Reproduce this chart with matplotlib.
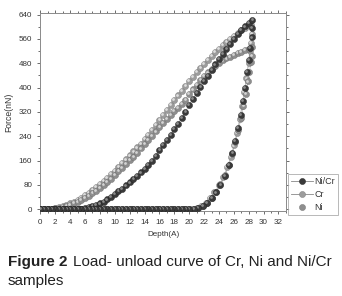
import matplotlib
matplotlib.use("Agg")
import matplotlib.pyplot as plt
from matplotlib.lines import Line2D
from matplotlib.ticker import MultipleLocator
from matplotlib.transforms import offset_copy

plt.rcParams['font.family'] = ['Liberation Sans', 'DejaVu Sans']

# loading depths shared by all three samples (A)
load_depth = [0, 0.5, 1, 1.5, 2, 2.5, 3, 3.5, 4, 4.5, 5, 5.5, 6, 6.5, 7, 7.5,
              8, 8.5, 9, 9.5, 10, 10.5, 11, 11.5, 12, 12.5, 13, 13.5, 14, 14.5,
              15, 15.5, 16, 16.5, 17, 17.5, 18, 18.5, 19, 19.5, 20, 20.5, 21,
              21.5, 22, 22.5, 23, 23.5, 24, 24.5, 25, 25.5, 26, 26.5, 27, 27.5, 28]

# loading forces (nN)
nicr_load = [0, 0, 0, 0, 0, 0, 0, 0, 0, 0, 1, 2, 4, 7, 10, 14,
             19, 25, 32, 40, 50, 59, 68, 78, 88, 99, 110, 121, 133, 146,
             160, 176, 194, 211, 228, 245, 263, 281, 300, 320, 343, 363, 382,
             401, 421, 439, 458, 476, 494, 511, 528, 544, 560, 575, 589, 601, 612]
cr_load = [0, 0, 1, 2, 4, 7, 10, 14, 19, 25, 31, 38, 46, 54, 63, 72,
           82, 93, 104, 115, 127, 139, 151, 164, 177, 190, 203, 216, 230, 245,
           260, 276, 293, 310, 326, 342, 358, 374, 390, 406, 421, 436, 451,
           465, 479, 492, 505, 517, 528, 539, 549, 559, 569, 579, 589, 597, 605]
ni_load = [0, 0, 1, 2, 3, 5, 8, 11, 15, 20, 25, 31, 38, 45, 53, 61,
           70, 80, 90, 101, 113, 125, 137, 149, 161, 173, 186, 200, 214, 228,
           242, 256, 270, 284, 297, 310, 322, 334, 347, 360, 379, 394, 410,
           425, 438, 450, 461, 472, 481, 489, 496, 502, 508, 513, 518, 523, 528]

# unloading branches
nicr_un_depth = [28.5, 28.4, 28.4, 28.2, 28.0, 27.8, 27.5, 27.2, 26.9, 26.6, 26.2,
                 25.8, 25.3, 24.8, 24.2, 23.6, 23.0, 22.4, 21.8, 21.2, 20.6, 20.0]
nicr_un_force = [623, 595, 565, 530, 490, 452, 400, 355, 310, 268, 225,
                 185, 145, 110, 80, 55, 36, 22, 12, 5, 1, 0]
cr_un_depth = [28.3, 28.4, 28.3, 28.2, 28.0, 27.7, 27.4, 27.1, 26.8, 26.4, 26.0,
               25.6, 25.1, 24.6, 24.0, 23.4, 22.8, 22.2, 21.6, 21.0, 20.4, 19.8]
cr_un_force = [606, 577, 548, 520, 480, 430, 385, 340, 295, 250, 210,
               172, 138, 105, 78, 55, 36, 22, 11, 4, 1, 0]
ni_un_depth = [28.5, 28.4, 28.3, 28.1, 27.9, 27.6, 27.3, 27.0, 26.6, 26.2, 25.8,
               25.3, 24.8, 24.2, 23.6, 23.0, 22.4, 21.8, 21.2, 20.6, 20.0]
ni_un_force = [532, 505, 485, 450, 420, 380, 340, 300, 260, 220, 182,
               146, 112, 82, 57, 37, 22, 11, 4, 1, 0]

# tip withdrawn, force back at zero
return_depth = [19.5, 19, 18.5, 18, 17.5, 17, 16.5, 16, 15.5, 15, 14.5, 14, 13.5,
                13, 12.5, 12, 11.5, 11, 10.5, 10, 9.5, 9, 8.5, 8, 7.5, 7, 6.5,
                6, 5.5, 5, 4.5, 4, 3.5, 3, 2.5, 2, 1.5, 1, 0.5, 0]
return_force = [0] * len(return_depth)

labels = ["Ni/Cr", "Cr", "Ni"]
base_colors = ["#3a3a3a", "#9c9c9c", "#8e8e8e"]
edge_colors = ["#1e1e1e", "#7a7a7a", "#6e6e6e"]
hi_colors = ["#8c8c8c", "#dedede", "#d4d4d4"]

fig = plt.figure(figsize=(3.42, 2.96), dpi=100)
ax = fig.add_axes([0.118, 0.287, 0.718, 0.669])


def balls(ax, xs, ys, color, edge, hi, ms=4.4):
    hi_tr = offset_copy(ax.transData, fig=fig, x=-0.6, y=0.6, units='points')
    for x, y in zip(xs, ys):
        ax.plot(x, y, 'o', ms=ms, mfc=color, mec=edge, mew=0.3, zorder=3)
        ax.plot(x, y, 'o', ms=ms * 0.45, mfc=hi, mec='none', zorder=3,
                transform=hi_tr)


series = [
    (nicr_load, nicr_un_depth, nicr_un_force),
    (cr_load, cr_un_depth, cr_un_force),
    (ni_load, ni_un_depth, ni_un_force),
]

for i, (fl, ud, uf) in enumerate(series):
    xs = load_depth + ud + return_depth
    ys = fl + uf + return_force
    ax.plot(xs, ys, '-', color='#b8b8b8', lw=0.5, zorder=2)

for i in [1, 2, 0]:
    fl, ud, uf = series[i]
    xs = load_depth + ud + return_depth
    ys = fl + uf + return_force
    balls(ax, xs, ys, base_colors[i], edge_colors[i], hi_colors[i])

ax.set_xlim(0, 33)
ax.set_ylim(-6, 645)
ax.xaxis.set_major_locator(MultipleLocator(2))
ax.xaxis.set_minor_locator(MultipleLocator(1))
ax.yaxis.set_major_locator(MultipleLocator(80))
ax.yaxis.set_minor_locator(MultipleLocator(40))
ax.tick_params(axis='both', which='both', labelsize=5.8, colors='#555555',
               labelcolor='#333333', width=0.6, top=True, right=True)
ax.tick_params(which='major', length=2.5)
ax.tick_params(which='minor', length=1.5)
for s in ax.spines.values():
    s.set_color('#8a8a8a')
    s.set_linewidth(0.7)

ax.set_xlabel("Depth(A)", fontsize=5.8, color='#333333', labelpad=3)
ax.set_ylabel("Force(nN)", fontsize=6.2, color='#333333', labelpad=4)

handles = [
    Line2D([], [], color='#888888', lw=0.6, marker='o', ms=4.4,
           mfc=base_colors[0], mec=edge_colors[0], mew=0.3),
    Line2D([], [], color='#888888', lw=0.6, marker='o', ms=4.4,
           mfc=base_colors[1], mec=edge_colors[1], mew=0.3),
    Line2D([], [], color='none', lw=0, marker='o', ms=4.4,
           mfc=base_colors[2], mec=edge_colors[2], mew=0.3),
]
leg = fig.legend(handles, labels, loc='lower left',
                 bbox_to_anchor=(288 / 342, (296 - 215) / 296),
                 fontsize=6.5, frameon=True, fancybox=False, borderpad=0.35,
                 labelspacing=0.45, handlelength=2.4, handletextpad=0.2,
                 borderaxespad=0)
leg.get_frame().set_edgecolor('#999999')
leg.get_frame().set_linewidth(0.6)
for t in leg.get_texts():
    t.set_color('#333333')

fig.text(8 / 342, 1 - 266 / 296, "Figure 2", fontsize=11, fontweight='bold',
         ha='left', va='baseline', color='#222222')
fig.text(73 / 342, 1 - 266 / 296, "Load- unload curve of Cr, Ni and Ni/Cr",
         fontsize=11, ha='left', va='baseline', color='#222222')
fig.text(8 / 342, 1 - 285 / 296, "samples", fontsize=11, ha='left',
         va='baseline', color='#222222')

fig.savefig("out.png", dpi=100)
